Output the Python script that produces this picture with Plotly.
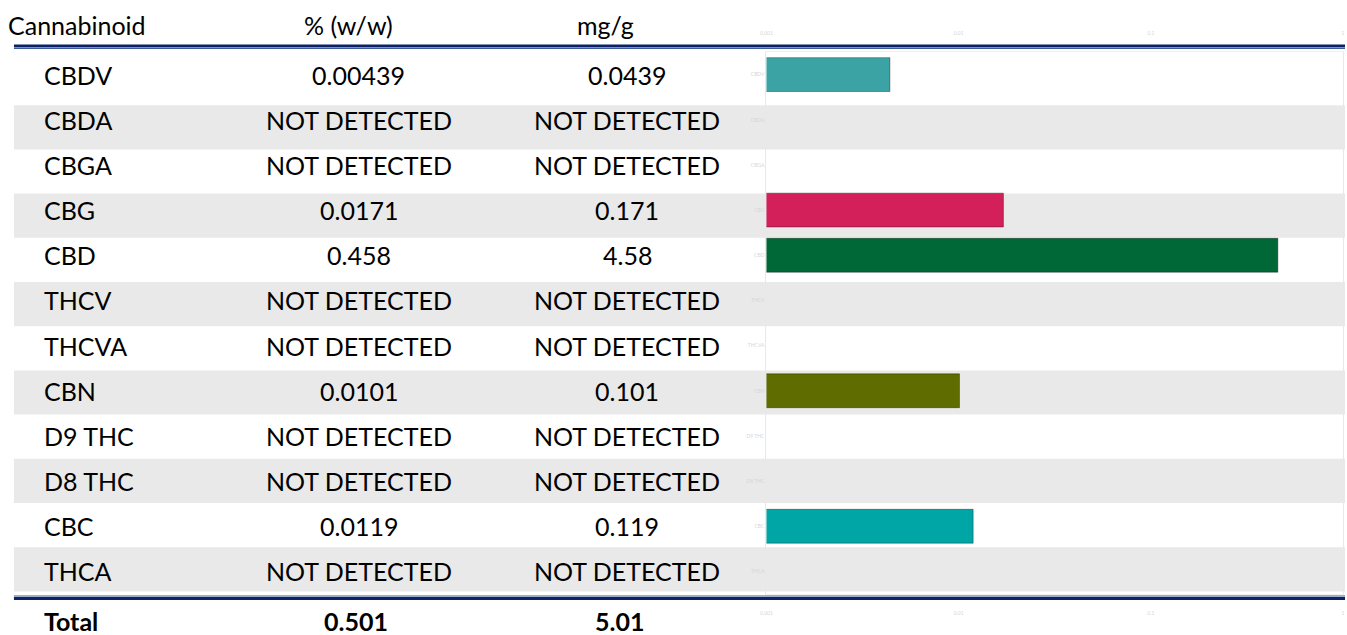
import plotly.graph_objects as go

# ---------------- data ----------------
cannabinoids = ["CBDV", "CBDA", "CBGA", "CBG", "CBD", "THCV", "THCVA",
                "CBN", "D9 THC", "D8 THC", "CBC", "THCA"]
pct_ww = [0.00439, None, None, 0.0171, 0.458, None, None,
          0.0101, None, None, 0.0119, None]
pct_text = ["0.00439", "NOT DETECTED", "NOT DETECTED", "0.0171", "0.458",
            "NOT DETECTED", "NOT DETECTED", "0.0101", "NOT DETECTED",
            "NOT DETECTED", "0.0119", "NOT DETECTED"]
mg_text = ["0.0439", "NOT DETECTED", "NOT DETECTED", "0.171", "4.58",
           "NOT DETECTED", "NOT DETECTED", "0.101", "NOT DETECTED",
           "NOT DETECTED", "0.119", "NOT DETECTED"]
bar_colors = ["#3BA3A3", "#cccccc", "#cccccc", "#D4205A", "#006837",
              "#cccccc", "#cccccc", "#5F6D00", "#cccccc", "#cccccc",
              "#00A6A6", "#cccccc"]
headers = ["Cannabinoid", "% (w/w)", "mg/g"]
total_label = "Total"
total_pct = "0.501"
total_mg = "5.01"
x_tickvals = [0.001, 0.01, 0.1, 1]
x_ticktext = ["0.001", "0.01", "0.1", "1"]

# ---------------- layout constants ----------------
W, H = 1347, 635
FONT = "Lato"
FS = 25
NAVY = "#0C2266"

def px(x):
    return x / W

def py(y):
    return 1 - y / H

n = len(cannabinoids)

fig = go.Figure()
fig.add_trace(go.Bar(
    y=cannabinoids, x=pct_ww, orientation="h",
    marker=dict(color=bar_colors, line=dict(color="rgba(0,0,0,0.35)", width=1)),
    width=0.75, hoverinfo="x+y", showlegend=False,
))
# invisible trace to carry the top axis
fig.add_trace(go.Scatter(x=[x_tickvals[0]], y=[cannabinoids[0]], xaxis="x2",
                         mode="markers", marker=dict(opacity=0),
                         showlegend=False, hoverinfo="skip"))

axis_common = dict(
    type="log", range=[-3, 0], domain=[px(765), px(1345)],
    tickvals=x_tickvals, ticktext=x_ticktext,
    tickfont=dict(size=5, color="#d6d6d6", family=FONT),
    showgrid=False, zeroline=False,
    ticks="outside", ticklen=14, tickcolor="rgba(0,0,0,0)",
)
fig.update_layout(
    width=W, height=H,
    margin=dict(l=0, r=0, t=0, b=0),
    paper_bgcolor="white", plot_bgcolor="rgba(0,0,0,0)",
    font=dict(family=FONT, size=FS, color="black"),
    bargap=0.25,
    xaxis=dict(**axis_common, side="bottom", showline=True,
               linecolor="#f0f0f0", mirror=True),
    xaxis2=dict(**axis_common, side="top", overlaying="x", matches="x",
                showline=False),
    yaxis=dict(
        categoryorder="array", categoryarray=cannabinoids,
        range=[n - 0.5, -0.5], autorange=False, domain=[py(594), py(52)],
        tickfont=dict(size=5, color="#d6d6d6", family=FONT),
        showgrid=False, zeroline=False, showline=True,
        linecolor="#e8e8e8", ticks="", mirror=True,
    ),
)

# alternating table bands (table row geometry)
TABLE_TOP, ROW_H = 61, 44.2
shapes = []
for i in range(n):
    if i % 2 == 1:
        y0 = TABLE_TOP + ROW_H * i
        shapes.append(dict(type="rect", xref="paper", yref="paper",
                           x0=px(8), x1=1, y0=py(y0), y1=py(y0 + ROW_H),
                           fillcolor="#E9E9E9", line=dict(width=0), layer="below"))
# rule lines
shapes += [
    dict(type="line", xref="paper", yref="paper", x0=px(8), x1=1,
         y0=py(46), y1=py(46), line=dict(color=NAVY, width=3)),
    dict(type="line", xref="paper", yref="paper", x0=px(8), x1=1,
         y0=py(48.5), y1=py(48.5), line=dict(color="#3D5A9A", width=1)),
    dict(type="line", xref="paper", yref="paper", x0=px(8), x1=1,
         y0=py(596), y1=py(596), line=dict(color="#3D5A9A", width=1)),
    dict(type="line", xref="paper", yref="paper", x0=px(8), x1=1,
         y0=py(598.5), y1=py(598.5), line=dict(color=NAVY, width=3)),
]
fig.update_layout(shapes=shapes)

ann = []
# header
ann.append(dict(text=headers[0], xref="paper", yref="paper", x=px(0), y=py(25),
                xanchor="left", yanchor="middle", showarrow=False))
ann.append(dict(text=headers[1], xref="paper", yref="paper", x=px(345), y=py(25),
                xanchor="center", yanchor="middle", showarrow=False))
ann.append(dict(text=headers[2], xref="paper", yref="paper", x=px(603), y=py(25),
                xanchor="center", yanchor="middle", showarrow=False))
# rows
for name, p, m in zip(cannabinoids, pct_text, mg_text):
    ann.append(dict(text=name, xref="paper", yref="y", x=px(36), y=name,
                    xanchor="left", yanchor="middle", showarrow=False))
    ann.append(dict(text=p, xref="paper", yref="y", x=px(355), y=name,
                    xanchor="center", yanchor="middle", showarrow=False))
    ann.append(dict(text=m, xref="paper", yref="y", x=px(625), y=name,
                    xanchor="center", yanchor="middle", showarrow=False))
# total
for t, x, anchor in [(total_label, 36, "left"), (total_pct, 352, "center"),
                     (total_mg, 617, "center")]:
    ann.append(dict(text="<b>" + t + "</b>", xref="paper", yref="paper",
                    x=px(x), y=py(621), xanchor=anchor, yanchor="middle",
                    showarrow=False))
fig.update_layout(annotations=ann)

fig.write_html("out.html",
               config={"displayModeBar": False},
               post_script="document.body.style.margin='0';"
                           "document.body.style.overflow='hidden';")
